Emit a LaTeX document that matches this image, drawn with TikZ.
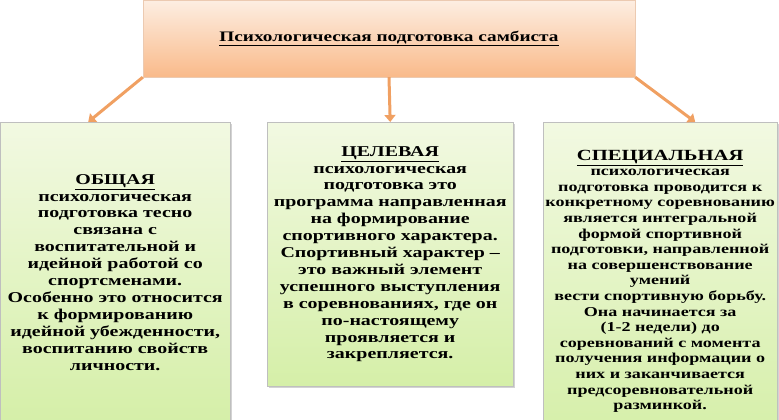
\documentclass[tikz,border=0pt]{standalone}
\usepackage{fontspec}
\setmainfont{Liberation Serif}
\newfontfamily\boxfont[FakeStretch=1.33]{Liberation Serif}
\usepackage{tikz}
\usetikzlibrary{arrows.meta, positioning, calc, shadows}
\definecolor{peachtop}{HTML}{FDEEE2}
\definecolor{peachbot}{HTML}{F9BA8A}
\definecolor{greentop}{HTML}{F2F9E2}
\definecolor{greenbot}{HTML}{D5EFA8}
\definecolor{arroworange}{HTML}{F0A062}
\tikzset{
	headbox/.style={rectangle, top color=peachtop, bottom color=peachbot, draw=peachbot!90!black!60, line width=0.4pt, align=center, font=\boxfont\bfseries\fontsize{14.5}{16}\selectfont},
	kindbox/.style={rectangle, top color=greentop, bottom color=greenbot, draw=black!25, line width=0.4pt, align=center, drop shadow={shadow xshift=1.5pt, shadow yshift=-1.5pt, opacity=0.35}, font=\boxfont\bfseries\fontsize{15}{16.9}\selectfont},
	arrow/.style={line width=3pt, arroworange, -{Triangle[length=7pt, width=11pt]}}
}
\begin{document}
\begin{tikzpicture}[x=1pt, y=-1pt]
		\useasboundingbox (0,0) rectangle (779,420);
		
		% Заголовок
		\node [headbox, minimum width=492pt, minimum height=77pt] (head) at (389,38.5) {\underline{Психологическая подготовка самбиста}};
		
		% Виды подготовки (нижние края уходят за край картинки)
		\node [kindbox, minimum width=230pt, minimum height=300pt, anchor=north west] (common) at (0,122) {\underline{ОБЩАЯ}\\психологическая\\подготовка тесно\\связана с\\воспитательной и\\идейной работой со\\спортсменами.\\Особенно это относится\\к формированию\\идейной убежденности,\\воспитанию свойств\\личности.};
		\node [kindbox, minimum width=246pt, minimum height=264pt, anchor=north west] (target) at (267,122) {\underline{ЦЕЛЕВАЯ}\\психологическая\\подготовка это\\программа направленная\\на формирование\\спортивного характера.\\Спортивный характер –\\это важный элемент\\успешного выступления\\в соревнованиях, где он\\по-настоящему\\проявляется и\\закрепляется.};
		\node [kindbox, minimum width=234pt, minimum height=318pt, inner xsep=0pt, anchor=north west, font=\boxfont\bfseries\fontsize{13.6}{15.6}\selectfont] (special) at (543,122) {{\fontsize{15.5}{16}\selectfont\underline{СПЕЦИАЛЬНАЯ}}\\психологическая\\подготовка проводится к\\конкретному соревнованию\\является интегральной\\формой спортивной\\подготовки, направленной\\на совершенствование\\умений\\вести спортивную борьбу.\\Она начинается за\\(1-2 недели) до\\соревнований с момента\\получения информации о\\них и заканчивается\\предсоревновательной\\разминкой.};
		
		% Стрелки
		\draw [arrow] (head.south west) -- ($(common.north)+(-27,0)$);
		\draw [arrow] (head.south) -- (target.north);
		\draw [arrow] (head.south east) -- ($(special.north)+(35,0)$);
	\end{tikzpicture}
\end{document}
